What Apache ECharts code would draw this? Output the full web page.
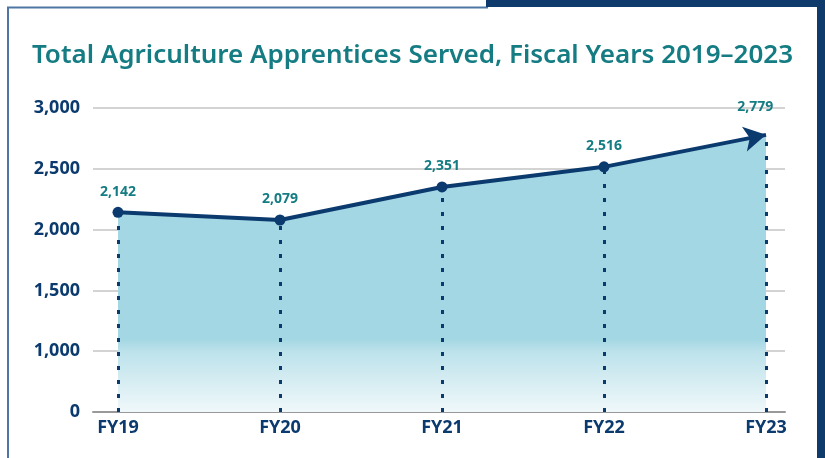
<!DOCTYPE html>
<html>
<head>
<meta charset="utf-8">
<script src="https://cdn.jsdelivr.net/npm/echarts@6/dist/echarts.min.js"></script>
<style>
html, body { margin: 0; padding: 0; background: #fff; }
#main { width: 825px; height: 458px; }
</style>
</head>
<body>
<div id="main"></div>
<script>
// 数据
var categories = ['FY19', 'FY20', 'FY21', 'FY22', 'FY23'];
var apprentices = [2142, 2079, 2351, 2516, 2779];
var yTicks = [500, 1000, 1500, 2000, 2500, 3000]; // 最底一档标为 0（轴被截断）

var navy = '#0b3a6e';
var teal = '#147c82';
var font = 'Noto Sans';

var dom = document.getElementById('main');
var myChart = echarts.init(dom);

var points = [];
for (var i = 0; i < apprentices.length; i++) {
    points.push([i, apprentices[i]]);
}

// 虚线竖线：从点到轴底
var dropLines = [];
for (var i = 0; i < apprentices.length; i++) {
    dropLines.push([{ coord: [i, yTicks[0]] }, { coord: [i, apprentices[i]] }]);
}

var option = {
    animation: false,
    title: {
        text: 'Total Agriculture Apprentices Served, Fiscal Years 2019\u20132023',
        left: 'center',
        top: 38,
        textStyle: { color: teal, fontFamily: font, fontWeight: 600, fontSize: 26 }
    },
    grid: { left: 93, right: 40, top: 108, bottom: 46 },
    xAxis: {
        type: 'value',
        min: -25 / 162,
        max: 4 + 19 / 162,
        splitLine: { show: false },
        axisTick: { show: false },
        axisLine: { show: true, lineStyle: { color: '#999', width: 2 } },
        axisLabel: {
            customValues: [0, 1, 2, 3, 4],
            formatter: function (v) { return categories[Math.round(v)]; },
            color: navy, fontFamily: font, fontWeight: 'bold', fontSize: 18, margin: 7
        }
    },
    yAxis: {
        type: 'value',
        min: yTicks[0],
        max: yTicks[yTicks.length - 1],
        interval: 500,
        axisLine: { show: false },
        axisTick: { show: false },
        splitLine: { lineStyle: { color: '#c4c4c4', width: 1.5 } },
        axisLabel: {
            formatter: function (v) { return v === yTicks[0] ? '0' : v.toLocaleString('en-US'); },
            color: navy, fontFamily: font, fontWeight: 'bold', fontSize: 18, margin: 13
        }
    },
    series: [
        {
            type: 'line',
            data: points,
            symbol: 'circle',
            symbolSize: 11,
            itemStyle: { color: navy },
            lineStyle: { color: navy, width: 4 },
            label: {
                show: true,
                position: 'top',
                distance: 8,
                formatter: function (p) { return p.value[1].toLocaleString('en-US'); },
                color: teal, fontFamily: font, fontWeight: 'bold', fontSize: 14
            },
            areaStyle: {
                origin: 'start',
                opacity: 1,
                color: {
                    type: 'linear', x: 0, y: 108, x2: 0, y2: 412, global: true,
                    colorStops: [
                        { offset: 0, color: '#a3d7e3' },
                        { offset: 0.76, color: '#a3d7e3' },
                        { offset: 0.8, color: '#bce2eb' },
                        { offset: 1, color: '#f0f8fa' }
                    ]
                }
            },
            markLine: {
                silent: true,
                symbol: 'none',
                label: { show: false },
                lineStyle: { color: navy, width: 3, type: [4, 10], cap: 'butt' },
                data: dropLines
            },
            z: 3
        }
    ],
    graphic: [
        { type: 'line', shape: { x1: 8, y1: 7, x2: 8, y2: 458 }, style: { stroke: '#4f76a3', lineWidth: 2 } },
        { type: 'line', shape: { x1: 7, y1: 7.5, x2: 488, y2: 7.5 }, style: { stroke: '#4f76a3', lineWidth: 2 } },
        { type: 'rect', shape: { x: 486, y: 0, width: 339, height: 7 }, style: { fill: '#0e3a6c' } },
        { type: 'rect', shape: { x: 817, y: 0, width: 8, height: 458 }, style: { fill: '#0e3a6c' } }
    ]
};

if (option && typeof option === 'object') {
    myChart.setOption(option, true);
}

// 最后一点改成箭头，方向沿最后一段线
var n = points.length;
var p1 = myChart.convertToPixel({ seriesIndex: 0 }, points[n - 2]);
var p2 = myChart.convertToPixel({ seriesIndex: 0 }, points[n - 1]);
var ang = Math.atan2(p1[1] - p2[1], p2[0] - p1[0]) * 180 / Math.PI;
points[n - 1] = {
    value: points[n - 1],
    symbol: 'arrow',
    symbolSize: [19, 22],
    symbolRotate: ang - 90,
    symbolOffset: [0, 0]
};
myChart.setOption({ series: [{ data: points }] });
</script>
</body>
</html>
